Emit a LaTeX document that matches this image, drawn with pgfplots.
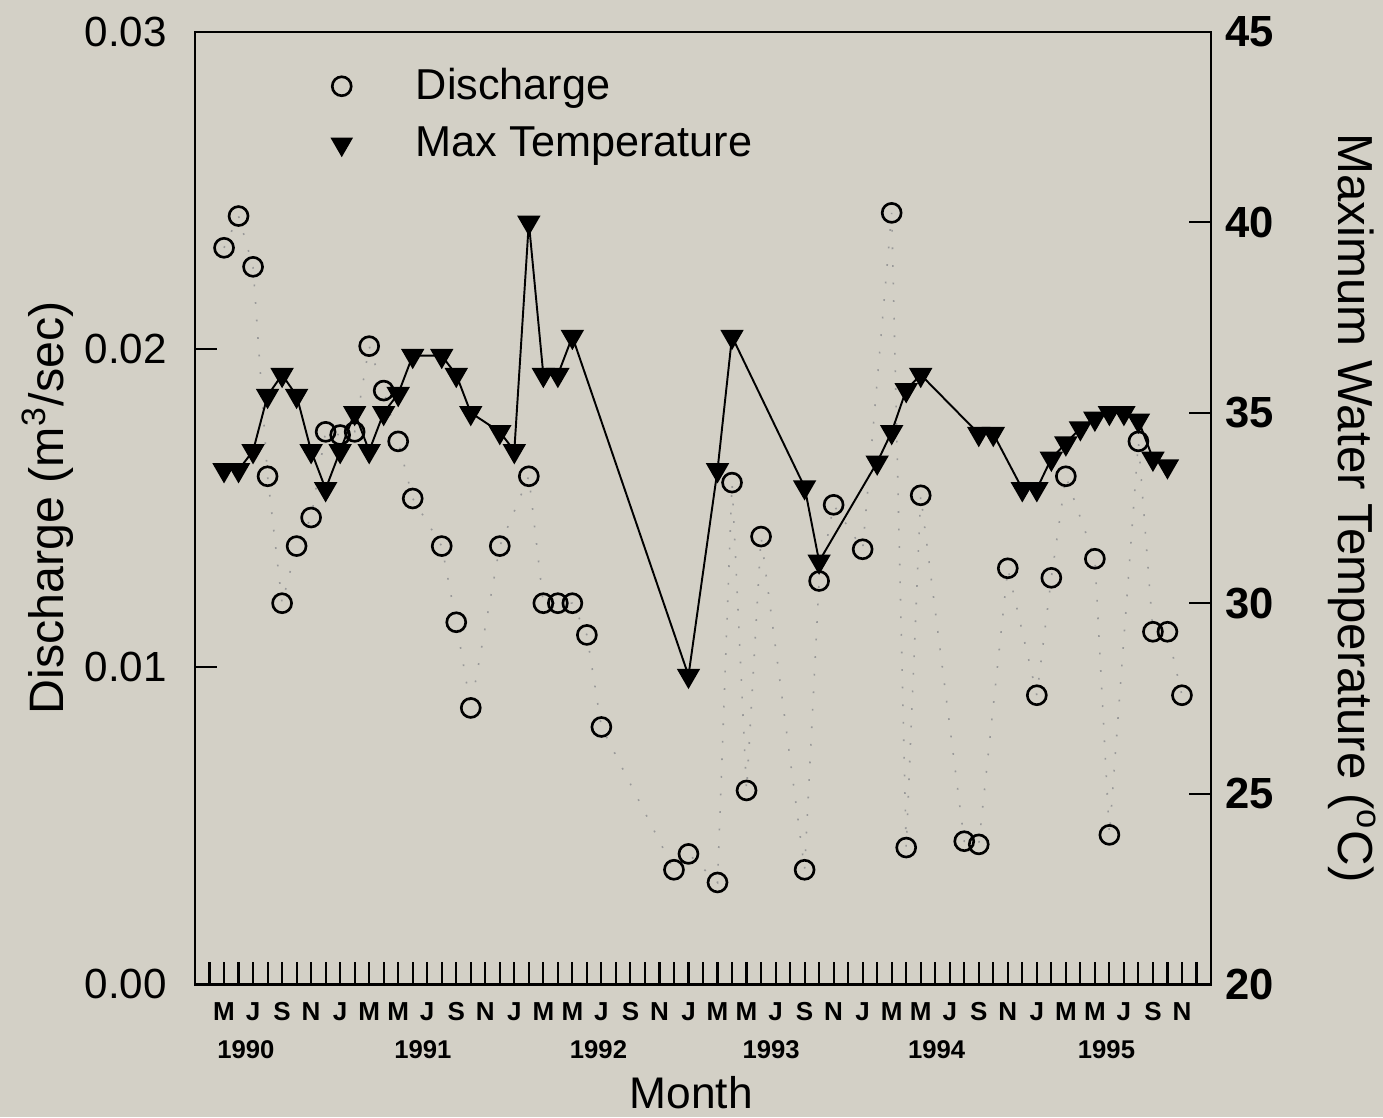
\documentclass[border=0pt]{standalone}
\usepackage{fontspec}
\setmainfont{Liberation Sans}
\usepackage{graphicx}
\usepackage{pgfplots}
\usepackage{pgfplotstable}
\pgfplotsset{compat=1.18}
\definecolor{paper}{RGB}{211,208,198}

% month index: 0 = April 1990
\pgfplotstableread{
m q
1 0.0232
2 0.0242
3 0.0226
4 0.0160
5 0.0120
6 0.0138
7 0.0147
8 0.0174
9 0.0173
10 0.0174
11 0.0201
12 0.0187
13 0.0171
14 0.0153
16 0.0138
17 0.0114
18 0.0087
20 0.0138
22 0.0160
23 0.0120
24 0.0120
25 0.0120
26 0.0110
27 0.0081
32 0.0036
33 0.0041
35 0.0032
36 0.0158
37 0.0061
38 0.0141
41 0.0036
42 0.0127
43 0.0151
45 0.0137
47 0.0243
48 0.0043
49 0.0154
52 0.0045
53 0.0044
55 0.0131
57 0.0091
58 0.0128
59 0.0160
61 0.0134
62 0.0047
64 0.0171
65 0.0111
66 0.0111
67 0.0091
}\discharge

\pgfplotstableread{
m t
1 33.5
2 33.5
3 34.0
4 35.45
5 36.0
6 35.45
7 34.0
8 33.0
9 34.0
10 35.0
11 34.0
12 35.0
13 35.5
14 36.5
16 36.5
17 36.0
18 35.0
20 34.5
21 34.0
22 40.0
23 36.0
24 36.0
25 37.0
33 28.1
35 33.5
36 37.0
41 33.05
42 31.1
46 33.7
47 34.5
48 35.6
49 36.0
53 34.45
54 34.45
56 33.0
57 33.0
58 33.8
59 34.2
60 34.6
61 34.85
62 35.0
63 35.0
64 34.8
65 33.8
66 33.6
}\maxtemp

\begin{document}
\begin{tikzpicture}
\path[use as bounding box, fill=paper] (-19.5mm,-13.3mm) rectangle (118.8mm,98.4mm);

\begin{axis}[
  name=ax, at={(0,0)}, anchor=south west,
  scale only axis, width=101.6mm, height=95.2mm,
  xmin=-1, xmax=69, ymin=0, ymax=0.03,
  clip=false,
  axis line style={line width=0.85pt},
  tick style={line width=0.6pt, black},
  major tick length=6.4pt,
  tick align=inside,
  xtick pos=left, ytick pos=left,
  xtick={0,...,68},
  xticklabels={,M,,J,,S,,N,,J,,M,,M,,J,,S,,N,,J,,M,,M,,J,,S,,N,,J,,M,,M,,J,,S,,N,,J,,M,,M,,J,,S,,N,,J,,M,,M,,J,,S,,N,},
  xticklabel style={font=\bfseries\fontsize{7.4}{8}\selectfont, anchor=center, yshift=-2.8mm},
  ytick={0,0.01,0.02,0.03},
  scaled y ticks=false,
  yticklabel style={font=\fontsize{12}{14}\selectfont, xshift=-4.5pt,
    /pgf/number format/.cd, fixed, fixed zerofill, precision=2, assume math mode=true},
]
\addplot[black!40, line width=0.45pt, dash pattern=on 0.5pt off 4.5pt] table[x=m, y=q] {\discharge};
\addplot[only marks, mark=o, mark size=2.7pt, mark options={line width=0.75pt, black}] table[x=m, y=q] {\discharge};

\node[font=\bfseries\fontsize{7.3}{8}\selectfont, yshift=-6.6mm] at (axis cs:2.5,0) {1990};
\node[font=\bfseries\fontsize{7.3}{8}\selectfont, yshift=-6.6mm] at (axis cs:14.7,0) {1991};
\node[font=\bfseries\fontsize{7.3}{8}\selectfont, yshift=-6.6mm] at (axis cs:26.8,0) {1992};
\node[font=\bfseries\fontsize{7.3}{8}\selectfont, yshift=-6.6mm] at (axis cs:38.7,0) {1993};
\node[font=\bfseries\fontsize{7.3}{8}\selectfont, yshift=-6.6mm] at (axis cs:50.1,0) {1994};
\node[font=\bfseries\fontsize{7.3}{8}\selectfont, yshift=-6.6mm] at (axis cs:61.8,0) {1995};
\node[font=\fontsize{12.6}{15}\selectfont, yshift=-10.9mm] at (axis cs:33.2,0) {Month};
\end{axis}

\begin{axis}[
  at={(0,0)}, anchor=south west,
  scale only axis, width=101.6mm, height=95.2mm,
  xmin=-1, xmax=69, ymin=20, ymax=45,
  clip=false,
  hide x axis,
  axis line style={line width=0.85pt},
  tick style={line width=0.6pt, black},
  major tick length=6.4pt,
  tick align=inside,
  ytick={20,25,...,45},
  ytick pos=right, yticklabel pos=right,
  yticklabel style={font=\bfseries\fontsize{12.4}{14}\selectfont, xshift=0.5pt,
    /pgf/number format/assume math mode=true},
  legend style={at={(0,0.913)}, anchor=west, xshift=13.6mm, draw=none, fill=none,
    inner sep=0pt, font=\fontsize{12.3}{14}\selectfont, row sep=2.3pt,
    nodes={inner sep=2pt},
    /tikz/every odd column/.append style={column sep=5.7mm}},
  legend cell align=left,
]
\addplot[black, line width=0.55pt, mark=triangle*, mark size=3.3pt,
  mark options={rotate=180, solid, fill=black}, forget plot] table[x=m, y=t] {\maxtemp};
\addlegendimage{only marks, mark=o, mark size=2.7pt, mark options={line width=0.75pt, black}}
\addlegendentry{Discharge}
\addlegendimage{only marks, mark=triangle*, mark size=3.3pt, mark options={rotate=180, fill=black, black}}
\addlegendentry{Max Temperature}
\end{axis}

\node[rotate=90, font=\fontsize{13.75}{16}\selectfont] at ([xshift=-14.7mm]ax.west) {Discharge (m\textsuperscript{3}/sec)};
\node[rotate=-90, font=\fontsize{14}{17}\selectfont] at ([xshift=14.1mm]ax.east) {Maximum Water Temperature (\textsuperscript{o}C)};
\end{tikzpicture}
\end{document}
